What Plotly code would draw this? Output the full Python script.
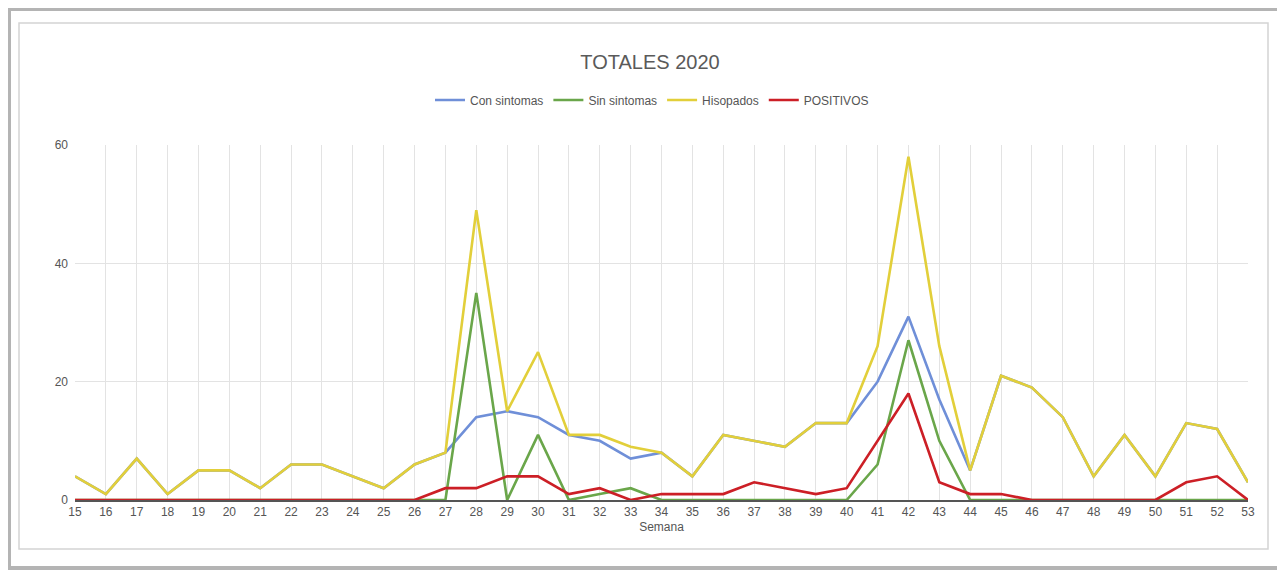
import plotly.graph_objects as go

semanas = list(range(15, 54))
hisopados = [4, 1, 7, 1, 5, 5, 2, 6, 6, 4, 2, 6, 8, 49, 15, 25, 11, 11, 9, 8,
             4, 11, 10, 9, 13, 13, 26, 58, 26, 5, 21, 19, 14, 4, 11, 4, 13, 12, 3]
sin_sintomas = [0, 0, 0, 0, 0, 0, 0, 0, 0, 0, 0, 0, 0, 35, 0, 11, 0, 1, 2, 0,
                0, 0, 0, 0, 0, 0, 6, 27, 10, 0, 0, 0, 0, 0, 0, 0, 0, 0, 0]
con_sintomas = [4, 1, 7, 1, 5, 5, 2, 6, 6, 4, 2, 6, 8, 14, 15, 14, 11, 10, 7, 8,
                4, 11, 10, 9, 13, 13, 20, 31, 17, 5, 21, 19, 14, 4, 11, 4, 13, 12, 3]
positivos = [0, 0, 0, 0, 0, 0, 0, 0, 0, 0, 0, 0, 2, 2, 4, 4, 1, 2, 0, 1,
             1, 1, 3, 2, 1, 2, 10, 18, 3, 1, 1, 0, 0, 0, 0, 0, 3, 4, 0]
y_ticks = [0, 20, 40, 60]

series = [
    ("Con sintomas", con_sintomas, "#6f8fd8"),
    ("Sin sintomas", sin_sintomas, "#6aa64a"),
    ("Hisopados", hisopados, "#e2cf3a"),
    ("POSITIVOS", positivos, "#cc1f26"),
]

fig = go.Figure()
for name, vals, color in series:
    fig.add_trace(go.Scatter(
        x=semanas, y=vals, name=name, mode="lines",
        line=dict(color=color, width=2.6),
    ))

# page body has an 8px margin; work in screen coordinates and shift
OFF = 8
W, H = 1285 - OFF, 574 - OFF
L, T = 75 - OFF, 145 - OFF
R = W - (1248 - OFF)
B = H - (500 - OFF)
pw, ph = W - L - R, H - T - B


def px(x):
    return (x - OFF - L) / pw


def py(y):
    return (H - B - (y - OFF)) / ph


def cx(x):
    return (x - OFF) / W


def cy(y):
    return 1 - (y - OFF) / H


shapes = [
    dict(type="rect", xref="paper", yref="paper", layer="below",
         x0=px(OFF + 1), x1=px(1280), y0=py(568), y1=py(OFF + 1),
         line=dict(color="#b4b4b4", width=4)),
    dict(type="rect", xref="paper", yref="paper", layer="below",
         x0=px(19), x1=px(1268), y0=py(549), y1=py(23),
         line=dict(color="#d4d4d4", width=1.5)),
]

fig.update_layout(
    width=W, height=H,
    margin=dict(l=L, r=R, t=T, b=B),
    paper_bgcolor="white", plot_bgcolor="white",
    font=dict(family="Liberation Sans, Arial, sans-serif", color="#555555", size=12),
    title=dict(text="TOTALES 2020", x=cx(650), xanchor="center", xref="container",
               y=cy(62), yref="container", yanchor="middle",
               font=dict(size=20, color="#5a5a5a")),
    legend=dict(orientation="h", x=px(652), xanchor="center", xref="paper",
                y=py(100), yanchor="middle", yref="paper",
                font=dict(size=12, color="#555555"), itemwidth=30,
                traceorder="normal"),
    shapes=shapes,
    xaxis=dict(
        range=[15, 53], tickmode="array", tickvals=semanas,
        ticktext=[str(s) for s in semanas], showgrid=True,
        gridcolor="#e3e3e3", gridwidth=1, zeroline=False,
        showline=True, linecolor="#555555", linewidth=1.5,
        layer="above traces", ticks="", tickfont=dict(size=12, color="#555555"),
        title=dict(text="Semana", font=dict(size=12, color="#555555"), standoff=4),
        fixedrange=True,
    ),
    yaxis=dict(
        range=[0, 60], tickmode="array", tickvals=y_ticks,
        showgrid=True, gridcolor="#e3e3e3", gridwidth=1, zeroline=False,
        showline=False, ticks="", tickfont=dict(size=12, color="#555555"),
        ticklabelstandoff=6, fixedrange=True,
    ),
)

fig.write_html("out.html")
